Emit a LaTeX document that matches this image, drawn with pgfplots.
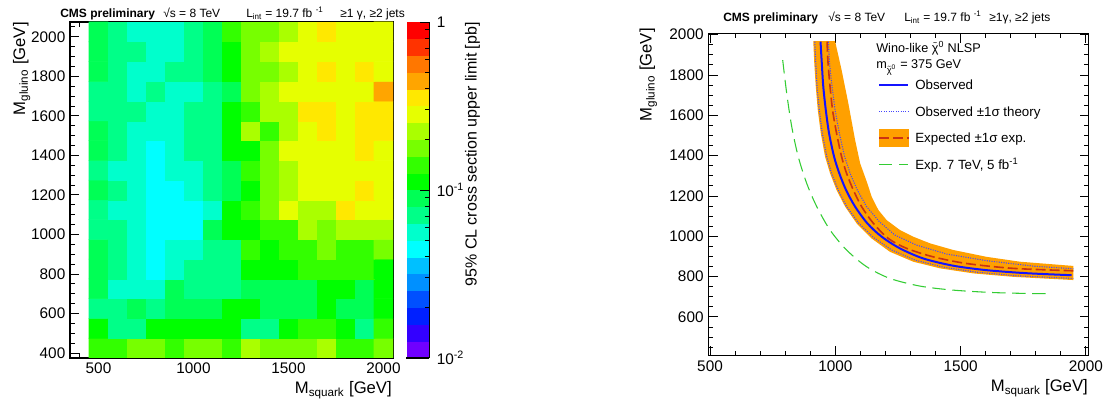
\documentclass[border=0pt]{standalone}
\usepackage{pgfplots}
\pgfplotsset{compat=1.18}
\usepackage{fontspec}
\setmainfont{Liberation Sans}

\definecolor{bandorange}{RGB}{255,160,0}
\definecolor{expred}{RGB}{204,51,17}
\definecolor{obsblue}{RGB}{20,20,255}
\definecolor{theoblue}{RGB}{70,70,255}
\definecolor{sevengreen}{RGB}{51,204,51}

\pgfplotsset{
  colormap={rootrainbow}{rgb255=(112,0,255) rgb255=(51,0,255) rgb255=(0,32,255) rgb255=(0,80,255) rgb255=(0,144,255) rgb255=(0,192,255) rgb255=(0,255,255) rgb255=(0,255,204) rgb255=(0,255,136) rgb255=(0,255,85) rgb255=(0,255,0) rgb255=(51,255,0) rgb255=(119,255,0) rgb255=(170,255,0) rgb255=(230,255,0) rgb255=(255,232,0) rgb255=(255,165,0) rgb255=(255,119,0) rgb255=(255,51,0) rgb255=(255,0,0)},
  rootaxis/.style={
    scale only axis,
    axis line style={line width=0.8pt},
    every tick/.style={black, line width=0.7pt},
    major tick length=7pt, minor tick length=3.5pt,
    tick align=inside,
    tick label style={font=\fontsize{11.5}{13}\selectfont},
    /pgf/number format/assume math mode=true,
    /pgf/number format/1000 sep={},
    scaled ticks=false,
  }
}

\newcommand{\chit}{$\tilde{\hbox{χ}}$}

\begin{document}
\begin{tikzpicture}[x=0.75pt,y=0.75pt]
\useasboundingbox (0,0) rectangle (1110,403);

% ---------------- left panel ----------------
\begin{axis}[rootaxis, at={(52.5pt,33.75pt)}, anchor=south west,
  width=242.25pt, height=252pt,
  xmin=350, xmax=2050, ymin=375, ymax=2075,
  xtick={500,1000,1500,2000}, minor xtick={400,500,...,2000},
  ytick={400,600,...,2000}, minor ytick={400,450,...,2050},
  colormap name=rootrainbow, colormap access=piecewise constant,
  point meta min=-2, point meta max=0,
  colorbar,
  colorbar style={
    at={(parent axis.north east)}, anchor=north west, xshift=1.5pt,
    width=17.25pt,
    axis x line*=none, axis y line*=right,
    axis line style={line width=0.8pt},
    tick align=inside,
    major tick length=7pt, minor tick length=3.5pt,
    every tick/.style={black, line width=0.7pt},
    ytick={-2,-1,0},
    yticklabels={10\textsuperscript{-2},10\textsuperscript{-1},1},
    minor ytick={-1.699,-1.5229,-1.3979,-1.3010,-1.2218,-1.1549,-1.0969,-1.0458,-0.699,-0.5229,-0.3979,-0.3010,-0.2218,-0.1549,-0.0969,-0.0458},
    yticklabel style={font=\fontsize{11.5}{13}\selectfont, xshift=2pt},
  },
]
\addplot[matrix plot*, mesh/cols=16, point meta=explicit]
 table[row sep=\\, x=x, y=y, meta expr={log10(\thisrow{z})}] {
x y z\\
500 425 0.141\\ 600 425 0.141\\ 700 425 0.178\\ 800 425 0.178\\ 900 425 0.141\\ 1000 425 0.178\\ 1100 425 0.178\\ 1200 425 0.141\\ 1300 425 0.224\\ 1400 425 0.178\\ 1500 425 0.178\\ 1600 425 0.178\\ 1700 425 0.224\\ 1800 425 0.141\\ 1900 425 0.141\\ 2000 425 0.178\\
500 525 0.112\\ 600 525 0.0708\\ 700 525 0.0708\\ 800 525 0.112\\ 900 525 0.112\\ 1000 525 0.112\\ 1100 525 0.112\\ 1200 525 0.112\\ 1300 525 0.0708\\ 1400 525 0.0708\\ 1500 525 0.112\\ 1600 525 0.141\\ 1700 525 0.141\\ 1800 525 0.112\\ 1900 525 0.0708\\ 2000 525 0.141\\
500 625 0.0708\\ 600 625 0.0708\\ 700 625 0.0891\\ 800 625 0.0708\\ 900 625 0.0891\\ 1000 625 0.0891\\ 1100 625 0.0891\\ 1200 625 0.112\\ 1300 625 0.112\\ 1400 625 0.0891\\ 1500 625 0.0891\\ 1600 625 0.0891\\ 1700 625 0.112\\ 1800 625 0.0891\\ 1900 625 0.0891\\ 2000 625 0.112\\
500 725 0.0891\\ 600 725 0.0562\\ 700 725 0.0562\\ 800 725 0.0562\\ 900 725 0.0891\\ 1000 725 0.0708\\ 1100 725 0.0708\\ 1200 725 0.0708\\ 1300 725 0.0891\\ 1400 725 0.0891\\ 1500 725 0.0891\\ 1600 725 0.0891\\ 1700 725 0.112\\ 1800 725 0.112\\ 1900 725 0.0891\\ 2000 725 0.112\\
500 825 0.0891\\ 600 825 0.0708\\ 700 825 0.0562\\ 800 825 0.0447\\ 900 825 0.0562\\ 1000 825 0.0708\\ 1100 825 0.0708\\ 1200 825 0.0708\\ 1300 825 0.112\\ 1400 825 0.112\\ 1500 825 0.112\\ 1600 825 0.141\\ 1700 825 0.141\\ 1800 825 0.141\\ 1900 825 0.141\\ 2000 825 0.112\\
500 925 0.0891\\ 600 925 0.0708\\ 700 925 0.0562\\ 800 925 0.0447\\ 900 925 0.0562\\ 1000 925 0.0562\\ 1100 925 0.0708\\ 1200 925 0.0708\\ 1300 925 0.141\\ 1400 925 0.112\\ 1500 925 0.141\\ 1600 925 0.141\\ 1700 925 0.178\\ 1800 925 0.141\\ 1900 925 0.141\\ 2000 925 0.178\\
500 1025 0.0708\\ 600 1025 0.0708\\ 700 1025 0.0562\\ 800 1025 0.0447\\ 900 1025 0.0447\\ 1000 1025 0.0447\\ 1100 1025 0.0891\\ 1200 1025 0.112\\ 1300 1025 0.112\\ 1400 1025 0.141\\ 1500 1025 0.141\\ 1600 1025 0.224\\ 1700 1025 0.178\\ 1800 1025 0.224\\ 1900 1025 0.224\\ 2000 1025 0.224\\
500 1125 0.0708\\ 600 1125 0.0562\\ 700 1125 0.0562\\ 800 1125 0.0447\\ 900 1125 0.0447\\ 1000 1125 0.0447\\ 1100 1125 0.0562\\ 1200 1125 0.112\\ 1300 1125 0.141\\ 1400 1125 0.178\\ 1500 1125 0.282\\ 1600 1125 0.224\\ 1700 1125 0.224\\ 1800 1125 0.355\\ 1900 1125 0.282\\ 2000 1125 0.282\\
500 1225 0.0891\\ 600 1225 0.0708\\ 700 1225 0.0562\\ 800 1225 0.0447\\ 900 1225 0.0447\\ 1000 1225 0.0562\\ 1100 1225 0.0708\\ 1200 1225 0.0891\\ 1300 1225 0.112\\ 1400 1225 0.178\\ 1500 1225 0.224\\ 1600 1225 0.282\\ 1700 1225 0.282\\ 1800 1225 0.282\\ 1900 1225 0.355\\ 2000 1225 0.282\\
500 1325 0.0708\\ 600 1325 0.0562\\ 700 1325 0.0562\\ 800 1325 0.0447\\ 900 1325 0.0562\\ 1000 1325 0.0562\\ 1100 1325 0.0708\\ 1200 1325 0.0891\\ 1300 1325 0.141\\ 1400 1325 0.178\\ 1500 1325 0.224\\ 1600 1325 0.282\\ 1700 1325 0.282\\ 1800 1325 0.282\\ 1900 1325 0.282\\ 2000 1325 0.282\\
500 1425 0.0891\\ 600 1425 0.0708\\ 700 1425 0.0562\\ 800 1425 0.0447\\ 900 1425 0.0562\\ 1000 1425 0.0708\\ 1100 1425 0.0708\\ 1200 1425 0.112\\ 1300 1425 0.112\\ 1400 1425 0.178\\ 1500 1425 0.282\\ 1600 1425 0.282\\ 1700 1425 0.282\\ 1800 1425 0.282\\ 1900 1425 0.355\\ 2000 1425 0.282\\
500 1525 0.0891\\ 600 1525 0.0708\\ 700 1525 0.0562\\ 800 1525 0.0562\\ 900 1525 0.0562\\ 1000 1525 0.0708\\ 1100 1525 0.0708\\ 1200 1525 0.112\\ 1300 1525 0.224\\ 1400 1525 0.141\\ 1500 1525 0.224\\ 1600 1525 0.282\\ 1700 1525 0.355\\ 1800 1525 0.282\\ 1900 1525 0.355\\ 2000 1525 0.355\\
500 1625 0.0708\\ 600 1625 0.0708\\ 700 1625 0.0708\\ 800 1625 0.0562\\ 900 1625 0.0562\\ 1000 1625 0.0708\\ 1100 1625 0.0708\\ 1200 1625 0.112\\ 1300 1625 0.141\\ 1400 1625 0.224\\ 1500 1625 0.224\\ 1600 1625 0.355\\ 1700 1625 0.355\\ 1800 1625 0.282\\ 1900 1625 0.355\\ 2000 1625 0.355\\
500 1725 0.0708\\ 600 1725 0.0708\\ 700 1725 0.0562\\ 800 1725 0.0708\\ 900 1725 0.0562\\ 1000 1725 0.0562\\ 1100 1725 0.0708\\ 1200 1725 0.0891\\ 1300 1725 0.178\\ 1400 1725 0.224\\ 1500 1725 0.282\\ 1600 1725 0.282\\ 1700 1725 0.282\\ 1800 1725 0.282\\ 1900 1725 0.282\\ 2000 1725 0.447\\
500 1825 0.0891\\ 600 1825 0.0708\\ 700 1825 0.0562\\ 800 1825 0.0562\\ 900 1825 0.0708\\ 1000 1825 0.0708\\ 1100 1825 0.0891\\ 1200 1825 0.112\\ 1300 1825 0.178\\ 1400 1825 0.178\\ 1500 1825 0.224\\ 1600 1825 0.282\\ 1700 1825 0.355\\ 1800 1825 0.282\\ 1900 1825 0.355\\ 2000 1825 0.282\\
500 1925 0.0891\\ 600 1925 0.0708\\ 700 1925 0.0708\\ 800 1925 0.0562\\ 900 1925 0.0562\\ 1000 1925 0.0708\\ 1100 1925 0.0891\\ 1200 1925 0.112\\ 1300 1925 0.178\\ 1400 1925 0.224\\ 1500 1925 0.282\\ 1600 1925 0.282\\ 1700 1925 0.282\\ 1800 1925 0.282\\ 1900 1925 0.282\\ 2000 1925 0.282\\
500 2025 0.0891\\ 600 2025 0.0708\\ 700 2025 0.0562\\ 800 2025 0.0562\\ 900 2025 0.0562\\ 1000 2025 0.0708\\ 1100 2025 0.0891\\ 1200 2025 0.141\\ 1300 2025 0.178\\ 1400 2025 0.178\\ 1500 2025 0.224\\ 1600 2025 0.282\\ 1700 2025 0.355\\ 1800 2025 0.282\\ 1900 2025 0.282\\ 2000 2025 0.282\\
};
\end{axis}

% ---------------- right panel ----------------
\begin{axis}[rootaxis, at={(531.2pt,35.5pt)}, anchor=south west,
  width=285.5pt, height=241.8pt,
  xmin=493, xmax=2012, ymin=408, ymax=2007,
  xtick={500,1000,1500,2000}, minor xtick={500,600,...,2000},
  ytick={600,800,...,2000}, minor ytick={450,500,...,2000},
]
% expected +-1 sigma band
\addplot[fill=bandorange, draw=none] coordinates {
(912,1968) (916,1858) (922,1742) (930,1626) (942,1511) (959,1395) (979,1312) (1005,1229) (1039,1147) (1085,1064) (1145,989) (1218,923) (1311,874) (1418,841) (1551,816) (1710,799) (1950,783)
(1950,853) (1737,874) (1604,898) (1471,932) (1378,965) (1311,998) (1258,1031) (1205,1080) (1172,1130) (1145,1196) (1128,1262) (1099,1362) (1079,1477) (1052,1659) (1025,1825) (999,1968)
} -- cycle;
% observed +-1 sigma theory
\addplot[theoblue, line width=0.8pt, dash pattern=on 0.8pt off 1pt] coordinates {
(972,1965) (977,1858) (987,1742) (999,1626) (1016,1511) (1037,1395) (1059,1312) (1088,1229) (1125,1147) (1176,1072) (1238,1006) (1325,956) (1444,912) (1604,879) (1790,852) (1950,839)
};
\addplot[theoblue, line width=0.8pt, dash pattern=on 0.8pt off 1pt] coordinates {
(918,1965) (922,1858) (927,1742) (936,1626) (948,1511) (966,1395) (985,1312) (1012,1229) (1045,1147) (1092,1067) (1152,994) (1225,932) (1318,882) (1431,847) (1564,822) (1724,804) (1950,791)
};
% expected
\addplot[expred, line width=1.2pt, dash pattern=on 7.5pt off 3pt, smooth] coordinates {
(967,1965) (971,1858) (979,1742) (989,1626) (1005,1511) (1025,1395) (1045,1312) (1072,1229) (1105,1147) (1152,1064) (1212,989) (1285,940) (1391,898) (1524,865) (1710,841) (1950,829)
};
% observed
\addplot[obsblue, line width=1.5pt, smooth] coordinates {
(941,1965) (946,1858) (952,1742) (962,1626) (975,1511) (995,1395) (1016,1312) (1043,1229) (1079,1147) (1128,1064) (1185,998) (1258,940) (1351,890) (1471,854) (1604,832) (1763,817) (1943,807)
};
% expected 7 TeV
\addplot[sevengreen, line width=0.8pt, dash pattern=on 10pt off 5pt, smooth] coordinates {
(790,1874) (806,1709) (826,1544) (852,1395) (886,1262) (926,1147) (979,1031) (1045,932) (1125,849) (1218,791) (1338,753) (1471,733) (1630,721) (1790,716) (1856,716)
};
\end{axis}

% ---------------- texts ----------------
\begin{scope}[every node/.style={inner sep=0pt, font=\fontsize{9}{10}\selectfont}]
\node[anchor=base west] at (60,385.5) {\textbf{CMS preliminary}};
\node[anchor=base west] at (163,385.5) {√s = 8 TeV};
\node[anchor=base west] at (246,385.5) {L\textsubscript{int} = 19.7 fb \textsuperscript{-1}};
\node[anchor=base west] at (340,385.5) {≥1 γ, ≥2 jets};
\node[anchor=base west] at (723,381.3) {\textbf{CMS preliminary}};
\node[anchor=base west] at (828,381.3) {√s = 8 TeV};
\node[anchor=base west] at (904,381.3) {L\textsubscript{int} = 19.7 fb \textsuperscript{-1}};
\node[anchor=base west] at (989,381.3) {≥1γ, ≥2 jets};
\end{scope}

\begin{scope}[every node/.style={inner sep=0pt, font=\fontsize{12.5}{14}\selectfont}]
\node[rotate=90, anchor=base east] at (25,381) {M\textsubscript{gluino} [GeV]};
\node[anchor=base east] at (392,9.7) {M\textsubscript{squark} [GeV]};
\node[rotate=90, anchor=base east] at (651.7,375) {M\textsubscript{gluino} [GeV]};
\node[anchor=base east] at (1088,11.5) {M\textsubscript{squark} [GeV]};
\node[rotate=90, anchor=base east, font=\fontsize{12}{14}\selectfont] at (476.5,381) {95\% CL cross section upper limit [pb]};
\end{scope}

% legend of right panel
\begin{scope}[every node/.style={inner sep=0pt, font=\fontsize{10}{12}\selectfont}]
\node[anchor=base west, font=\fontsize{9.5}{11}\selectfont] at (876,350.5) {Wino-like \chit\textsuperscript{0} NLSP};
\node[anchor=base west, font=\fontsize{9.5}{11}\selectfont] at (876,334.5) {m\textsubscript{\scriptsize\chit\textsuperscript{0}} = 375 GeV};
\draw[obsblue, line width=1.5pt] (879,317.7) -- (908,317.7);
\node[anchor=base west] at (915,313) {Observed};
\draw[theoblue, line width=0.8pt, dash pattern=on 0.8pt off 1pt] (879,291.3) -- (908,291.3);
\node[anchor=base west] at (915,286.6) {Observed ±1σ theory};
\fill[bandorange] (879,256) rectangle (909,274);
\draw[expred, line width=1.2pt, dash pattern=on 7.5pt off 3pt] (879,265) -- (909,265);
\node[anchor=base west] at (915,260.3) {Expected ±1σ exp.};
\draw[sevengreen, line width=0.8pt, dash pattern=on 10pt off 5pt] (879,238.3) -- (908,238.3);
\node[anchor=base west] at (915,233.6) {Exp. 7 TeV, 5 fb\textsuperscript{-1}};
\end{scope}
\end{tikzpicture}
\end{document}
